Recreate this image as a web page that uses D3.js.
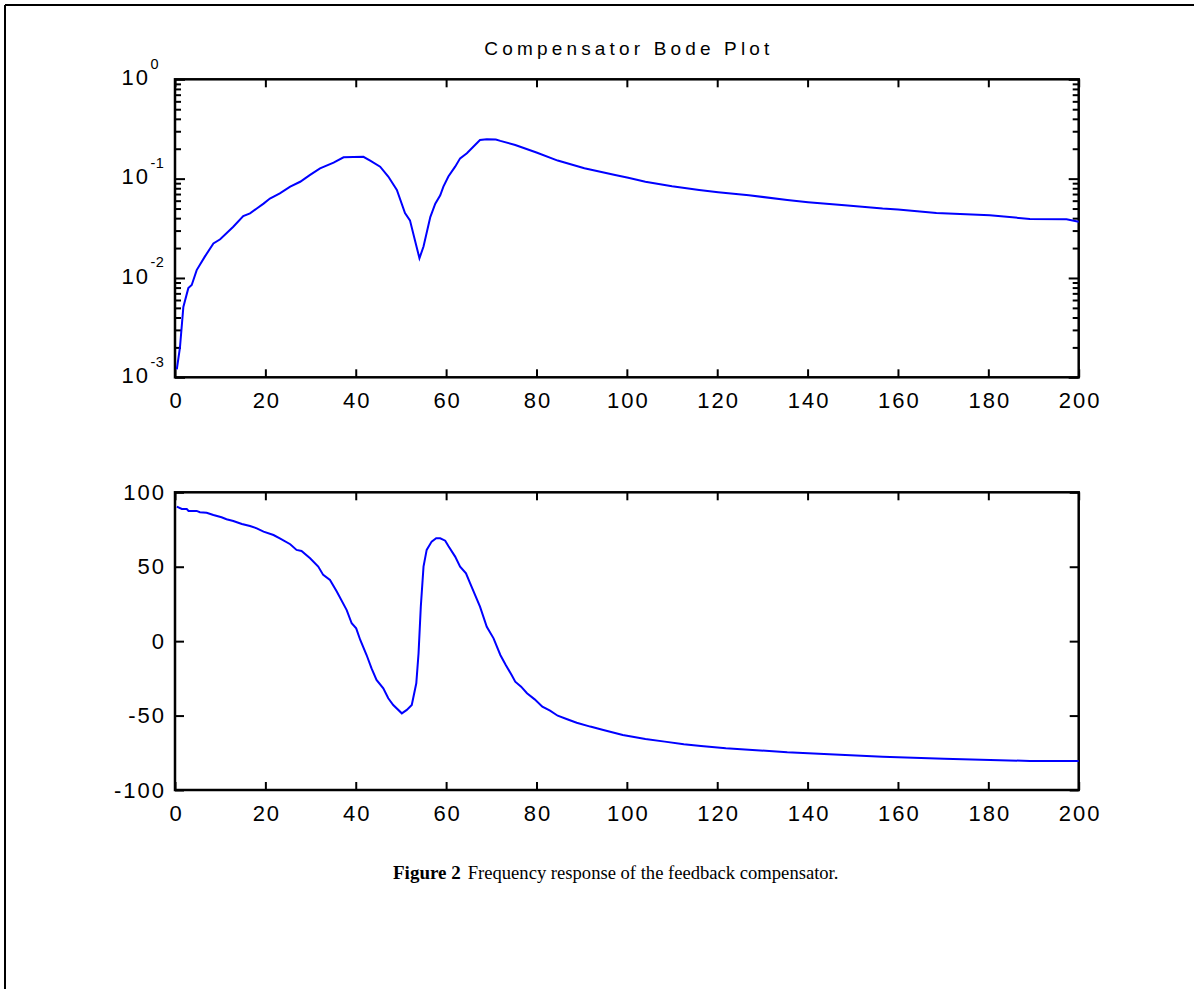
<!DOCTYPE html>
<html><head><meta charset="utf-8">
<script src="https://cdn.jsdelivr.net/npm/d3@7"></script>
<style>body{margin:0;background:#fff}svg{display:block}</style>
</head><body>
<svg id="c" width="1194" height="989"></svg>
<script>
// ---- data ----
const magFreq = [0.4,1.1,1.85,2.95,3.7,4.8,6.6,8.5,10,12.9,15.1,16.6,18.1,19.6,21,23.2,25.5,27.7,29.9,32.1,35.1,37.3,41.7,43.2,45.4,47.2,49.1,50.9,52,53.1,54.1,55,56.5,57.6,58.7,59.4,60.5,62,63.1,64.6,66.4,67.5,69,71,72,75.3,80,84.7,90.6,97.4,100.3,104.1,110,116,120.2,127,135.5,140.1,148.2,156.6,160,168.5,180.3,189.2,197.3,200];
const magVal = [0.0012,0.0020,0.0051,0.0079,0.0085,0.012,0.0164,0.0223,0.0245,0.0328,0.042,0.0447,0.050,0.056,0.063,0.071,0.083,0.093,0.109,0.127,0.145,0.164,0.166,0.152,0.132,0.105,0.077,0.045,0.038,0.024,0.0158,0.0207,0.041,0.056,0.068,0.083,0.105,0.132,0.160,0.180,0.218,0.245,0.249,0.248,0.240,0.218,0.183,0.152,0.127,0.109,0.102,0.093,0.084,0.077,0.073,0.068,0.061,0.058,0.054,0.050,0.049,0.045,0.0428,0.0393,0.0389,0.0369];
const phaseFreq = [0.4,1.5,2.6,3,4.8,5.5,7,8.5,10.3,11.4,12.9,14.8,16.6,18.1,19.6,21.8,23.2,25.5,26.9,28,29.9,31.7,32.8,34.3,35.8,38,39.1,40.1,41,42.4,43.5,44.6,46.1,47.2,48.3,50.2,51.3,52.4,53.4,53.9,54.4,55,55.7,56.8,57.8,58.7,59.8,60.5,62,63.1,64.4,65.3,67.5,69,70.5,72,73.2,74.5,75.3,76.6,77.9,79.6,81.3,83,84.7,86.8,88.9,91.9,94.8,99.1,104.1,108.4,112.6,116.4,121.9,127.8,135.5,144.8,156.6,170.2,189.2,200];
const phaseVal = [90.4,88.8,88.8,87.5,87.5,86.6,86.3,84.8,83.2,81.9,80.7,78.7,77.4,75.8,73.6,71.3,69.1,65.1,61.3,60.6,55.7,50.1,44.5,41.1,33.3,20.9,12.0,8.6,0.8,-9.3,-18.3,-26.1,-31.7,-38.4,-42.9,-48.5,-46.2,-42.9,-28.3,-8.2,23.2,50.1,61.3,66.9,69.1,69.1,67.5,63.9,56.8,50.1,45.6,38.9,23.2,9.7,1.9,-9.3,-16,-22.7,-27.2,-30.6,-35,-39.1,-44,-46.7,-50.1,-52.5,-54.8,-57.4,-59.7,-63,-65.7,-67.5,-69.3,-70.4,-72,-73.1,-74.7,-76,-77.6,-79,-80.5,-80.5];
const xTicks = [0,20,40,60,80,100,120,140,160,180,200];
const magTicks = [1e-3,1e-2,1e-1,1];
const magTickExp = ["-3","-2","-1","0"];
const phaseTicks = [-100,-50,0,50,100];
const titleText = "Compensator Bode Plot";
const captionBold = "Figure 2";
const captionRest = "Frequency response of the feedback compensator.";

// ---- layout ----
const svg = d3.select("#c");
const L = 175, R = 1078.7;
const top1 = 79.3, bot1 = 377.3, top2 = 492.3, bot2 = 790;
const FONT = "'Liberation Sans', Arial, Helvetica, sans-serif";

// outer frame (left + top only visible)
svg.append("line").attr("x1",5).attr("y1",5).attr("x2",1194).attr("y2",5).attr("stroke","#000").attr("stroke-width",2);
svg.append("line").attr("x1",5).attr("y1",5).attr("x2",5).attr("y2",989).attr("stroke","#000").attr("stroke-width",2);

const x = d3.scaleLinear().domain([0,200]).range([L,R]);
const y1 = d3.scaleLog().domain([1e-3,1]).range([bot1,top1]);
const y2 = d3.scaleLinear().domain([-100,100]).range([bot2,top2]);

function styleAxis(g){
  g.select(".domain").remove();
  g.selectAll(".tick line").attr("stroke","#000").attr("stroke-width",2);
  g.selectAll("text").attr("font-family",FONT).attr("font-size",22).attr("fill","#000").attr("letter-spacing","2px");
}

// minor log ticks
const minor = [];
for (let e=-3;e<0;e++) for (let m=2;m<=9;m++) minor.push(m*Math.pow(10,e));

function panel(top, bot){
  svg.append("g").attr("transform",`translate(0,${bot})`)
    .call(d3.axisBottom(x).tickValues(xTicks).tickSize(-8).tickPadding(15.5).tickFormat(d=>String(d)))
    .call(styleAxis).call(g=>g.selectAll("text").attr("dx","1px"));
  svg.append("g").attr("transform",`translate(0,${top})`)
    .call(d3.axisTop(x).tickValues(xTicks).tickSize(-8).tickFormat(""))
    .call(styleAxis);
}
panel(top1, bot1);
panel(top2, bot2);

// top panel y axes
svg.append("g").attr("transform",`translate(${L},0)`)
  .call(d3.axisLeft(y1).tickValues(minor).tickSize(-6).tickFormat("")).call(styleAxis);
svg.append("g").attr("transform",`translate(${R},0)`)
  .call(d3.axisRight(y1).tickValues(minor).tickSize(-6).tickFormat("")).call(styleAxis);
svg.append("g").attr("transform",`translate(${L},0)`)
  .call(d3.axisLeft(y1).tickValues(magTicks).tickSize(-10).tickFormat("")).call(styleAxis);
svg.append("g").attr("transform",`translate(${R},0)`)
  .call(d3.axisRight(y1).tickValues(magTicks).tickSize(-10).tickFormat("")).call(styleAxis);
// log labels 10^n
const lab = svg.append("g").attr("font-family",FONT).attr("fill","#000");
magTicks.forEach((v,i)=>{
  const yy = y1(v);
  lab.append("text").attr("x",L-53.5).attr("y",yy+5.8).attr("text-anchor","start")
    .attr("font-size",22).attr("letter-spacing","2px").text("10");
  lab.append("text").attr("x",L-24.5).attr("y",yy-10.8).attr("text-anchor","start")
    .attr("font-size",14.5).attr("letter-spacing","0.5px").text(magTickExp[i]);
});

// bottom panel y axes
svg.append("g").attr("transform",`translate(${L},0)`)
  .call(d3.axisLeft(y2).tickValues(phaseTicks).tickSize(-9).tickPadding(9).tickFormat(d=>String(d))).call(styleAxis);
svg.append("g").attr("transform",`translate(${R},0)`)
  .call(d3.axisRight(y2).tickValues(phaseTicks).tickSize(-9).tickFormat("")).call(styleAxis);

// frames
[[top1,bot1],[top2,bot2]].forEach(([t,b])=>{
  svg.append("rect").attr("x",L).attr("y",t).attr("width",R-L).attr("height",b-t)
    .attr("fill","none").attr("stroke","#000").attr("stroke-width",2.5);
});

// curves
const magData = magFreq.map((f,i)=>[f,magVal[i]]);
const phData = phaseFreq.map((f,i)=>[f,phaseVal[i]]);
svg.append("path").datum(magData)
  .attr("d", d3.line().x(d=>x(d[0])).y(d=>y1(d[1])))
  .attr("fill","none").attr("stroke","#0000ff").attr("stroke-width",2);
svg.append("path").datum(phData)
  .attr("d", d3.line().x(d=>x(d[0])).y(d=>y2(d[1])))
  .attr("fill","none").attr("stroke","#0000ff").attr("stroke-width",2);

// title
svg.append("text").attr("x",(L+R)/2).attr("y",55).attr("text-anchor","middle")
  .attr("font-family",FONT).attr("font-size",19).attr("fill","#000")
  .attr("textLength",285).attr("lengthAdjust","spacing").text(titleText);

// caption
const cap = svg.append("text").attr("x",393).attr("y",879)
  .attr("font-family","'Liberation Serif','Times New Roman',serif").attr("fill","#000");
cap.append("tspan").attr("font-weight","bold").attr("font-size",19).text(captionBold);
cap.append("tspan").attr("dx",7).attr("font-size",18.6).text(captionRest);
</script>
</body></html>
